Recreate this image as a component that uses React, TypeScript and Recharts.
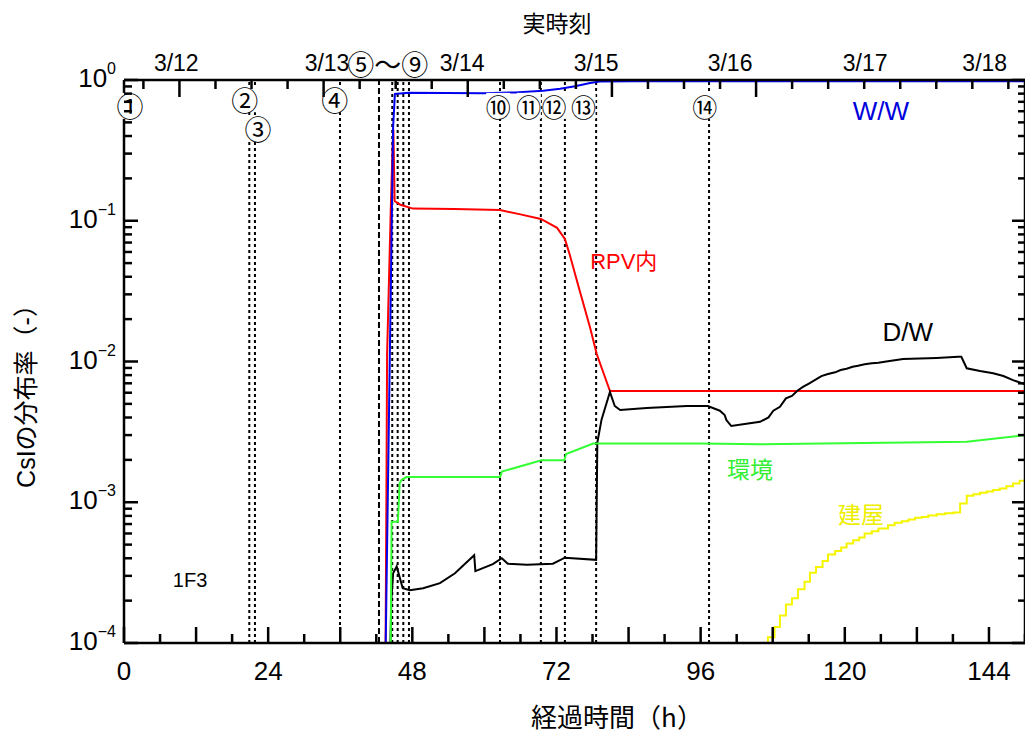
import React from "react";
import { Line, LineChart, ReferenceDot, ReferenceLine, XAxis, YAxis } from "recharts";

const FONT = '"Liberation Sans", Arial, "Noto Sans CJK JP", sans-serif';
const JP = '"Noto Sans CJK JP", "Liberation Sans", sans-serif';

// 経過時間 [h] / CsI distribution ratio
const WW_HOURS = [43.57, 44.8, 45.1, 47.4, 59.8, 65.1, 69.8, 72.6, 75.1, 77.6, 79.2, 85.0, 150];
const WW_RATIO = [1e-4, 0.458, 0.795, 0.812, 0.806, 0.816, 0.839, 0.867, 0.904, 0.952, 0.975, 0.978, 0.978];

const RPV_HOURS = [43.55, 43.7, 43.8, 44.4, 44.7, 44.85, 45.05, 46.0, 48.1, 55.0, 62.6, 66.0, 69.4, 72.1, 73.4, 74.2, 75.6, 77.6, 78.7, 80.9, 150];
const RPV_RATIO = [1e-4, 1.41e-3, 0.0112, 0.115, 0.314, 0.443, 0.138, 0.13, 0.122, 0.121, 0.119, 0.111, 0.103, 0.089, 0.0743, 0.0575, 0.035, 0.0174, 0.0113, 0.00617, 0.00617];

const ENV_HOURS = [44.4, 44.55, 45.6, 45.9, 46.2, 47.0, 62.6, 62.9, 69.5, 73.3, 73.6, 78.1, 95.9, 105.9, 140.3, 150];
const ENV_RATIO = [1e-4, 7.28e-4, 7.28e-4, 1.37e-3, 1.44e-3, 1.51e-3, 1.51e-3, 1.65e-3, 1.99e-3, 1.99e-3, 2.2e-3, 2.61e-3, 2.61e-3, 2.58e-3, 2.69e-3, 3.0e-3];

const DW_HOURS = [
  44.35, 44.5, 44.8, 45.4, 45.8, 46.4, 47.6, 49.8, 52.6, 55.1, 58.3, 58.5, 61.4, 62.9, 63.9, 67.1,
  71.4, 73.4, 78.6, 78.8, 79.5, 80.9, 81.7, 82.6, 87.0, 93.7, 97.2, 99.2, 100.0, 100.3, 101.1, 103.9,
  105.9, 107.3, 108.1, 109.2, 110.2, 111.2, 112.1, 113.1, 114.1, 115.2, 116.1, 117.2, 118.4, 119.3,
  120.3, 121.3, 122.2, 123.3, 124.5, 125.6, 126.9, 129.7, 132.5, 135.3, 138.9, 139.4, 140.3, 142.5,
  144.7, 146.4, 148.0, 150,
];
const DW_RATIO = [
  1e-4, 2.0e-4, 3.13e-4, 3.5e-4, 3.03e-4, 2.45e-4, 2.37e-4, 2.45e-4, 2.66e-4, 3.13e-4, 4.2e-4, 3.24e-4,
  3.63e-4, 4.0e-4, 3.66e-4, 3.6e-4, 3.66e-4, 4.04e-4, 3.9e-4, 2.65e-3, 3.86e-3, 6.07e-3, 4.83e-3,
  4.52e-3, 4.67e-3, 4.82e-3, 4.82e-3, 4.47e-3, 4.16e-3, 3.83e-3, 3.48e-3, 3.63e-3, 3.73e-3, 4.01e-3,
  4.47e-3, 4.77e-3, 5.47e-3, 5.69e-3, 6.2e-3, 6.62e-3, 7.0e-3, 7.46e-3, 7.88e-3, 8.15e-3, 8.38e-3,
  8.7e-3, 8.89e-3, 9.18e-3, 9.33e-3, 9.55e-3, 9.71e-3, 9.8e-3, 1.0e-2, 1.04e-2, 1.05e-2, 1.06e-2,
  1.08e-2, 1.08e-2, 8.95e-3, 8.55e-3, 8.24e-3, 7.88e-3, 7.38e-3, 6.89e-3,
];

const BLDG_HOURS = [
  107.15, 107.2, 108.3, 109.2, 110.2, 111.2, 112.2, 113.3, 114.2, 115.2, 116.3, 117.2, 118.4, 119.4,
  120.3, 121.4, 122.4, 123.3, 124.5, 125.6, 127.2, 128.3, 129.5, 130.6, 131.7, 132.8, 133.9, 135.3,
  136.7, 138.1, 139.2, 140.3, 141.4, 142.5, 143.6, 144.7, 145.8, 146.9, 148.0, 149.1, 150,
];
const BLDG_RATIO = [
  8e-5, 1.1e-4, 1.3e-4, 1.57e-4, 1.88e-4, 2.08e-4, 2.41e-4, 2.72e-4, 3.15e-4, 3.47e-4, 3.83e-4, 4.25e-4,
  4.51e-4, 4.77e-4, 5.09e-4, 5.37e-4, 5.62e-4, 6.0e-4, 6.22e-4, 6.51e-4, 6.87e-4, 7.14e-4, 7.34e-4,
  7.55e-4, 7.75e-4, 7.87e-4, 8.05e-4, 8.23e-4, 8.36e-4, 8.45e-4, 9.8e-4, 1.11e-3, 1.14e-3, 1.17e-3,
  1.19e-3, 1.22e-3, 1.25e-3, 1.3e-3, 1.36e-3, 1.42e-3, 1.43e-3,
];

// axes
const X_TICKS = [0, 6, 12, 18, 24, 30, 36, 42, 48, 54, 60, 66, 72, 78, 84, 90, 96, 102, 108, 114, 120, 126, 132, 138, 144, 150];
const DECADES = [1e-4, 1e-3, 1e-2, 1e-1, 1];
const MANTISSAS = [1, 2, 3, 4, 5, 6, 7, 8, 9];
// real clock: accident at 3/11 14:46, so 3/12 0:00 = 9.23 h
const CLOCK_TICKS = [3.23, 9.23, 15.23, 21.23, 27.23, 33.23, 39.23, 45.23, 51.23, 57.23, 63.23, 69.23, 75.23, 81.23, 87.23, 93.23, 99.23, 105.23, 111.23, 117.23, 123.23, 129.23, 135.23, 141.23, 147.23];
const TOP_LABELS = ["3/12", "3/13", "⑤～⑨", "3/14", "3/15", "3/16", "3/17", "3/18"];
const TOP_LABEL_HOURS = [8.7, 33.8, 43.9, 56.3, 78.6, 100.9, 123.4, 143.3];

// events: dotted lines and circled markers
const EVENT_LINE_HOURS = [20.86, 21.8, 35.96, 42.45, 44.66, 45.56, 46.5, 47.44, 62.6, 69.4, 73.4, 78.6, 97.4];
const EVENT_LINE_DASH = ["3 3", "3 3", "3 3", "6 3", "3 3", "3 3", "3 3", "3 3", "3 3", "3 3", "3 3", "3 3", "3 3"];
const MARKERS = ["①", "②", "③", "④", "⑩", "⑪", "⑫", "⑬", "⑭"];
const MARKER_HOURS = [1.0, 20.1, 22.3, 35.1, 62.3, 67.4, 71.6, 76.5, 96.7];
const MARKER_RATIO = [0.655, 0.73, 0.45, 0.73, 0.655, 0.655, 0.655, 0.655, 0.655];

const NOTES = ["W/W", "RPV内", "D/W", "環境", "建屋", "1F3"];
const NOTE_HOURS = [126.0, 83.2, 130.5, 104.2, 122.7, 11.0];
const NOTE_RATIO = [0.605, 0.051, 0.0162, 1.69e-3, 8.1e-4, 2.79e-4];
const NOTE_COLORS = ["#0000dd", "#ff0000", "#000000", "#33ee33", "#eeee00", "#000000"];
const NOTE_SIZES = [26, 22, 26, 23, 23, 20];

// plot box (px) as laid out by the chart: left axis 124 wide, top axis 80, bottom axis 91
const CHART_W = 1025;
const CHART_H = 734;
const PLOT_LEFT = 124;
const PLOT_TOP = 80;
const PLOT_W = CHART_W - PLOT_LEFT;
const PLOT_H = CHART_H - PLOT_TOP - 91;
const PX_PER_HOUR = PLOT_W / 150;
const PX_PER_DECADE = PLOT_H / 4;

const zip = (hs: number[], vs: number[]) => hs.map((h, i) => ({ h, v: vs[i] }));

const yTicks = DECADES.flatMap((d) => (d === 1 ? [1] : MANTISSAS.map((m) => +(m * d).toPrecision(3))));

const isDecade = (v: number) => Math.abs(Math.log10(v) - Math.round(Math.log10(v))) < 1e-6;
const isMidnight = (h: number) => Math.abs((((h - 9.23) % 24) + 24) % 24) < 0.01;

function BottomTick(props: any) {
  const { x, y, payload } = props;
  const v = payload.value as number;
  if (v % 24 !== 0) return <g />;
  return (
    <text x={x} y={y + 37} textAnchor="middle" fontSize={26} fontFamily={FONT} fill="#000">
      {v}
    </text>
  );
}

function TopTick(props: any) {
  const { x, y, payload } = props;
  const li = TOP_LABEL_HOURS.indexOf(payload.value as number);
  if (li < 0) return <g />;
  const text = TOP_LABELS[li];
  const jp = text.includes("～");
  return (
    <text
      x={x}
      y={y - 17}
      textAnchor="middle"
      dominantBaseline="central"
      fontSize={jp ? 27 : 23}
      fontFamily={jp ? JP : FONT}
      fill="#000"
    >
      {text}
    </text>
  );
}

function LeftTick(props: any) {
  const { x, y, payload } = props;
  const v = payload.value as number;
  if (!isDecade(v)) return <g />;
  const exp = Math.round(Math.log10(v));
  return (
    <text x={x - 8} y={y + 7} textAnchor="end" fontSize={26} fontFamily={FONT} fill="#000">
      <tspan>10</tspan>
      <tspan dy={-13} fontSize={16}>
        {exp === 0 ? "0" : `−${-exp}`}
      </tspan>
    </text>
  );
}

function Marker({ cx, cy, text }: any) {
  const size = text.charCodeAt(0) >= 0x2469 ? 25 : 27;
  return (
    <g>
      <rect x={cx - 12} y={cy - 13} width={24} height={26} fill="#fff" />
      <text x={cx} y={cy} textAnchor="middle" dominantBaseline="central" fontSize={size} fontFamily={JP} fill="#000">
        {text}
      </text>
    </g>
  );
}

function Note({ cx, cy, text, color, size }: any) {
  return (
    <text x={cx} y={cy} textAnchor="middle" dominantBaseline="central" fontSize={size} fontFamily={FONT} fill={color}>
      {text}
    </text>
  );
}

// inward tick marks on all four sides, laid over the chart with the same hour / log scales
const xPx = (h: number) => PLOT_LEFT + h * PX_PER_HOUR;
const yPx = (v: number) => PLOT_TOP - Math.log10(v) * PX_PER_DECADE;

function TickMarks() {
  const bottom = PLOT_TOP + PLOT_H;
  const right = PLOT_LEFT + PLOT_W;
  return (
    <svg
      width={CHART_W}
      height={CHART_H}
      style={{ position: "absolute", left: 0, top: 0, pointerEvents: "none" }}
    >
      <g stroke="#000" strokeWidth={2.5}>
        {X_TICKS.map((h) => (
          <line key={`b${h}`} x1={xPx(h)} x2={xPx(h)} y1={bottom} y2={bottom - (h % 12 === 0 ? 16 : 9)} />
        ))}
        {CLOCK_TICKS.map((h) => (
          <line key={`t${h}`} x1={xPx(h)} x2={xPx(h)} y1={PLOT_TOP} y2={PLOT_TOP + (isMidnight(h) ? 17 : 9)} />
        ))}
        {yTicks.map((v) => (
          <g key={`y${v}`}>
            <line x1={PLOT_LEFT} x2={PLOT_LEFT + (isDecade(v) ? 14 : 8)} y1={yPx(v)} y2={yPx(v)} />
            <line x1={right} x2={right - (isDecade(v) ? 13 : 7)} y1={yPx(v)} y2={yPx(v)} />
          </g>
        ))}
      </g>
    </svg>
  );
}

const title = (left: number, top: number, size: number, rotate = 0): React.CSSProperties => ({
  position: "absolute",
  left,
  top,
  transform: `translate(-50%, -50%) rotate(${rotate}deg)`,
  fontSize: size,
  fontFamily: JP,
  lineHeight: 1,
  whiteSpace: "nowrap",
  color: "#000",
});

export default function App() {
  return (
    <div style={{ position: "absolute", left: 0, top: 0, width: CHART_W, height: CHART_H, background: "#fff" }}>
      <LineChart width={CHART_W} height={CHART_H} margin={{ top: 0, right: 0, bottom: 0, left: 0 }}>
        <XAxis
          dataKey="h"
          type="number"
          domain={[0, 150]}
          allowDataOverflow
          ticks={X_TICKS}
          interval={0}
          tickSize={0}
          tickMargin={0}
          tickLine={false}
          axisLine={false}
          tick={(p: any) => <BottomTick {...p} />}
          height={91}
        />
        <XAxis
          xAxisId="top"
          orientation="top"
          dataKey="h"
          type="number"
          domain={[0, 150]}
          allowDataOverflow
          ticks={TOP_LABEL_HOURS}
          interval={0}
          tickSize={0}
          tickMargin={0}
          tickLine={false}
          axisLine={false}
          tick={(p: any) => <TopTick {...p} />}
          height={80}
        />
        <YAxis
          scale="log"
          type="number"
          domain={[1e-4, 1]}
          allowDataOverflow
          ticks={yTicks}
          interval={0}
          tickSize={0}
          tickMargin={0}
          tickLine={false}
          axisLine={false}
          tick={(p: any) => <LeftTick {...p} />}
          width={124}
        />

        {EVENT_LINE_HOURS.map((h, i) => (
          <ReferenceLine
            key={`ev${i}`}
            x={h}
            stroke="#000"
            strokeWidth={2}
            strokeDasharray={EVENT_LINE_DASH[i]}
          />
        ))}

        <Line data={zip(RPV_HOURS, RPV_RATIO)} dataKey="v" stroke="#ff0000" strokeWidth={2} dot={false} isAnimationActive={false} />
        <Line data={zip(DW_HOURS, DW_RATIO)} dataKey="v" stroke="#000000" strokeWidth={2} dot={false} isAnimationActive={false} />
        <Line data={zip(ENV_HOURS, ENV_RATIO)} dataKey="v" stroke="#33ff33" strokeWidth={2} dot={false} isAnimationActive={false} />
        <Line
          data={zip(BLDG_HOURS, BLDG_RATIO)}
          dataKey="v"
          type="stepAfter"
          stroke="#f5f500"
          strokeWidth={2}
          dot={false}
          isAnimationActive={false}
        />
        {/* W/W is drawn on the top (clock) axis, which shares the same hour scale */}
        <Line
          data={zip(WW_HOURS, WW_RATIO)}
          dataKey="v"
          xAxisId="top"
          stroke="#0000ee"
          strokeWidth={2}
          dot={false}
          isAnimationActive={false}
        />

        {/* plot frame */}
        <ReferenceLine x={0} stroke="#000" strokeWidth={2.5} />
        <ReferenceLine x={150} stroke="#000" strokeWidth={2.5} />
        <ReferenceLine y={1e-4} stroke="#000" strokeWidth={2.5} />
        <ReferenceLine y={1} stroke="#000" strokeWidth={2.5} />

        {MARKERS.map((m, i) => (
          <ReferenceDot
            key={`mk${i}`}
            x={MARKER_HOURS[i]}
            y={MARKER_RATIO[i]}
            ifOverflow="visible"
            shape={(p: any) => <Marker cx={p.cx} cy={p.cy} text={m} />}
          />
        ))}
        {NOTES.map((n, i) => (
          <ReferenceDot
            key={`nt${i}`}
            x={NOTE_HOURS[i]}
            y={NOTE_RATIO[i]}
            ifOverflow="visible"
            shape={(p: any) => (
              <Note cx={p.cx} cy={p.cy} text={n} color={NOTE_COLORS[i]} size={NOTE_SIZES[i]} />
            )}
          />
        ))}
      </LineChart>
      <TickMarks />
      <div style={title(557, 22, 23)}>実時刻</div>
      <div style={title(617, 716, 26)}>経過時間（h）</div>
      <div style={{ ...title(26, 390, 25, -90), fontFamily: FONT }}>CsIの分布率（-）</div>
    </div>
  );
}
